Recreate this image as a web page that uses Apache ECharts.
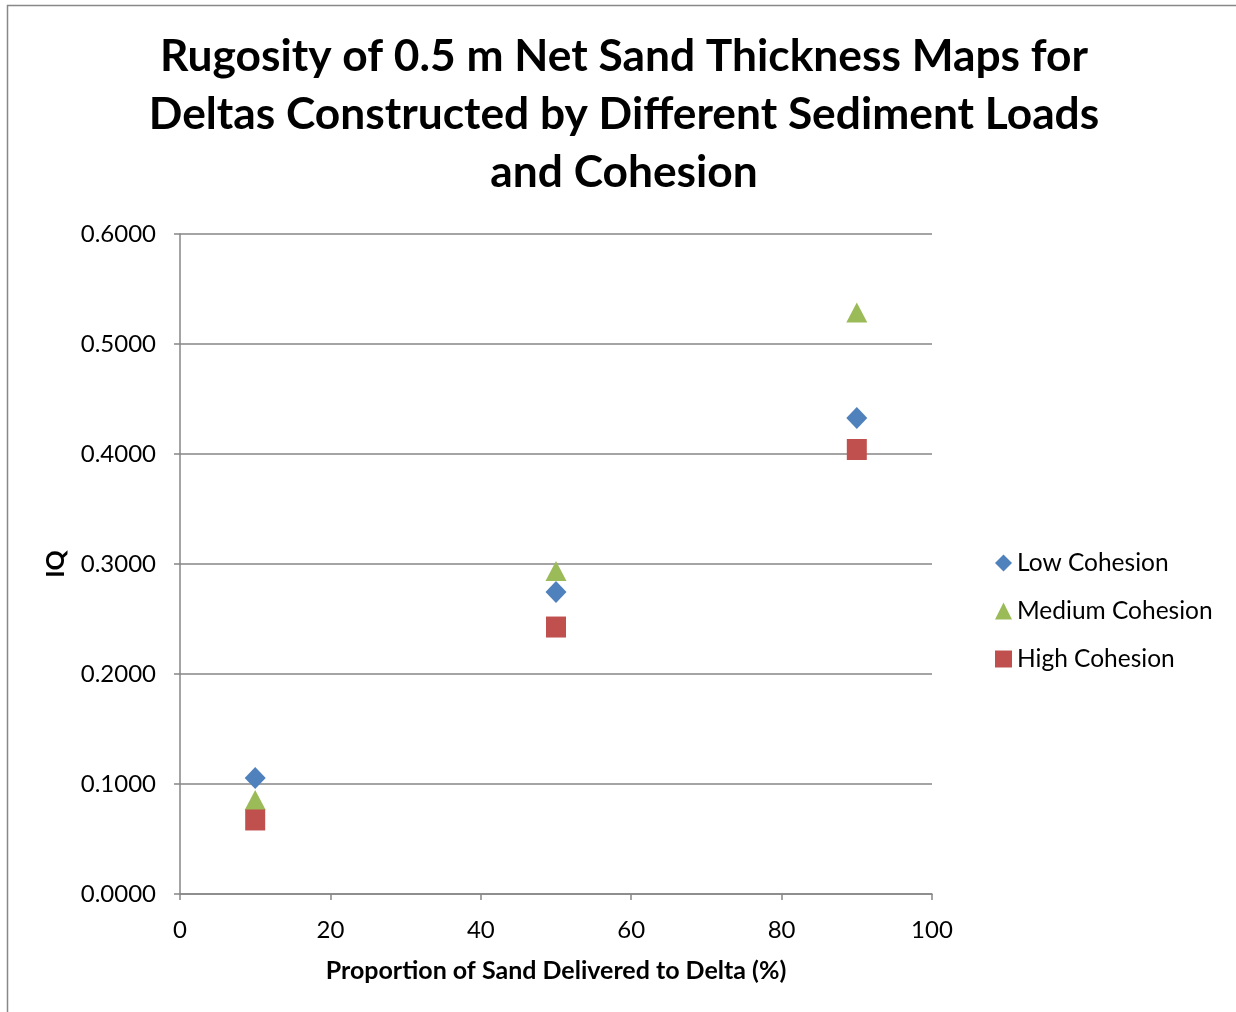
<!DOCTYPE html>
<html>
<head>
<meta charset="utf-8">
<script src="https://cdn.jsdelivr.net/npm/echarts@6/dist/echarts.min.js"></script>
<style>
  html, body { margin: 0; padding: 0; background: #fff; }
  #chart { width: 1236px; height: 1012px; }
</style>
</head>
<body>
<div id="chart"></div>
<script>
// Sand proportion (%) for each delta run
const sandProportion = [10, 50, 90];
// IQ rugosity for each cohesion level
const lowCohesion = [0.1055, 0.2745, 0.4327];
const mediumCohesion = [0.0855, 0.2936, 0.5286];
const highCohesion = [0.0673, 0.2427, 0.4041];

const seriesNames = ['Low Cohesion', 'Medium Cohesion', 'High Cohesion'];
const titleText = 'Rugosity of 0.5 m Net Sand Thickness Maps for\nDeltas Constructed by Different Sediment Loads\nand Cohesion';
const xAxisTitle = 'Proportion of Sand Delivered to Delta (%)';
const yAxisTitle = 'IQ';

const FONT = 'Lato, "Open Sans", "DejaVu Sans", sans-serif';

function pairs(ys) {
  return sandProportion.map((x, i) => [x, ys[i]]);
}

const chart = echarts.init(document.getElementById('chart'), null, { renderer: 'canvas' });

chart.setOption({
  backgroundColor: '#ffffff',
  animation: false,
  graphic: [{
    type: 'rect',
    shape: { x: 7.5, y: 5.5, width: 1260, height: 1040 },
    style: { fill: 'none', stroke: '#888888', lineWidth: 1.5 },
    silent: true
  }],
  title: {
    text: titleText,
    left: 624,
    textAlign: 'center',
    top: 28,
    padding: 0,
    textStyle: {
      fontFamily: FONT,
      fontWeight: 'bold',
      fontSize: 44.3,
      lineHeight: 58,
      color: '#000'
    }
  },
  grid: { left: 180, right: 304, top: 234, bottom: 118 },
  legend: {
    orient: 'vertical',
    left: 995,
    top: 550,
    padding: 0,
    itemGap: 22,
    itemWidth: 17,
    itemHeight: 17,
    data: [
      { name: 'Low Cohesion', icon: 'diamond' },
      { name: 'Medium Cohesion', icon: 'triangle' },
      { name: 'High Cohesion', icon: 'rect' }
    ],
    textStyle: { fontFamily: FONT, fontSize: 24.5, lineHeight: 26, color: '#000', padding: [0, 0, 0, 0] }
  },
  xAxis: {
    type: 'value',
    min: 0, max: 100, interval: 20,
    name: xAxisTitle,
    nameLocation: 'middle',
    nameGap: 64,
    nameTextStyle: { fontFamily: FONT, fontWeight: 'bold', fontSize: 25, color: '#000' },
    axisLine: { show: true, lineStyle: { color: '#868686', width: 1.5 } },
    axisTick: { show: true, inside: false, length: 6, lineStyle: { color: '#868686', width: 1.5 } },
    axisLabel: { fontFamily: FONT, fontSize: 24, color: '#000', margin: 24 },
    splitLine: { show: false }
  },
  yAxis: {
    type: 'value',
    min: 0, max: 0.6, interval: 0.1,
    name: yAxisTitle,
    nameLocation: 'middle',
    nameGap: 112,
    nameRotate: 90,
    nameTextStyle: { fontFamily: FONT, fontWeight: 'bold', fontSize: 25, color: '#000' },
    axisLine: { show: true, lineStyle: { color: '#868686', width: 1.5 } },
    axisTick: { show: true, length: 6, lineStyle: { color: '#868686', width: 1.5 } },
    axisLabel: {
      fontFamily: FONT, fontSize: 24, color: '#000', margin: 24,
      formatter: v => v.toFixed(4)
    },
    splitLine: { show: true, lineStyle: { color: '#868686', width: 1.5 } }
  },
  series: [
    {
      name: seriesNames[0], type: 'scatter', symbol: 'diamond', symbolSize: [21, 22],
      itemStyle: { color: '#4F81BD', opacity: 1 }, data: pairs(lowCohesion), z: 3
    },
    {
      name: seriesNames[1], type: 'scatter', symbol: 'triangle', symbolSize: [21, 20],
      itemStyle: { color: '#9BBB59', opacity: 1 }, data: pairs(mediumCohesion), z: 4
    },
    {
      name: seriesNames[2], type: 'scatter', symbol: 'rect', symbolSize: [20, 21],
      itemStyle: { color: '#C0504D', opacity: 1 }, data: pairs(highCohesion), z: 5
    }
  ]
});
</script>
</body>
</html>
